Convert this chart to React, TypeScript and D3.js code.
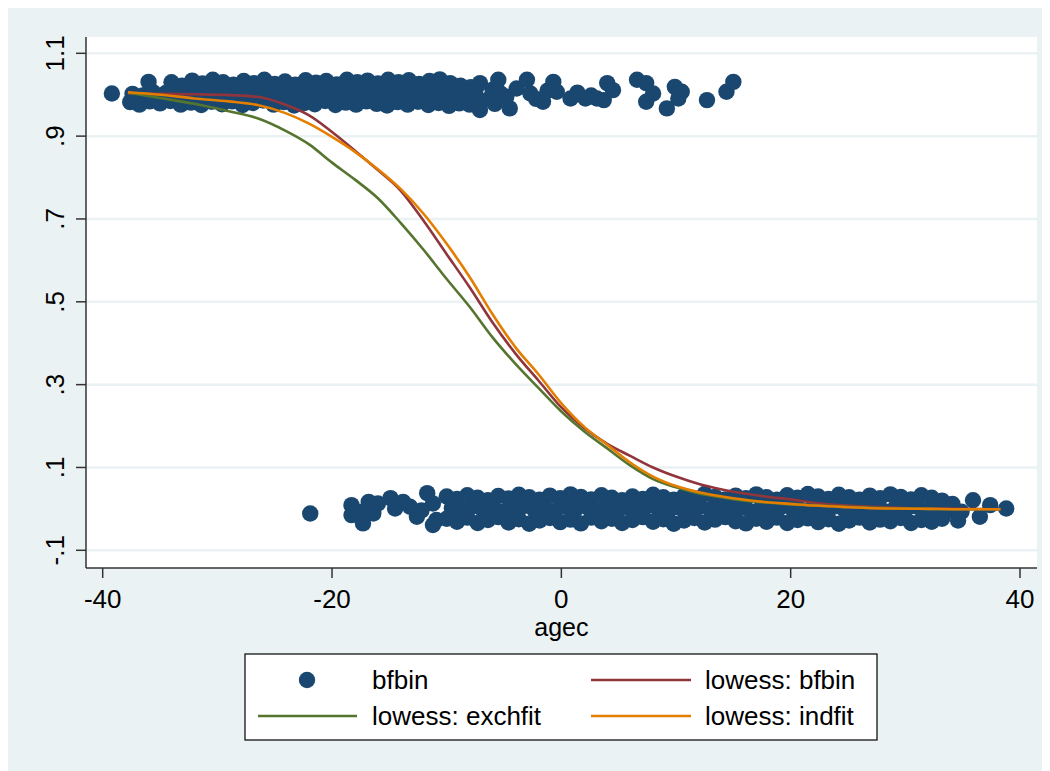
import React, { useEffect } from "react";
import * as d3 from "d3";

// axis ticks
const xTicks = [-40, -20, 0, 20, 40];
const yTicks = [-0.1, 0.1, 0.3, 0.5, 0.7, 0.9, 1.1];
const yTickLabels = ["-.1", ".1", ".3", ".5", ".7", ".9", "1.1"];

// lowess fits
const lowessX = [-37.8, -35, -32, -29, -26.5, -24, -22, -20, -18, -16, -14, -12, -10, -8, -6, -4, -2, 0, 2, 4, 6, 8, 10, 12, 14, 16, 18, 20, 22, 25, 28, 32, 35, 38.3];
const lowessBfbin = [1.003, 1.002, 1.001, 0.999, 0.995, 0.975, 0.95, 0.91, 0.865, 0.818, 0.768, 0.695, 0.615, 0.535, 0.45, 0.375, 0.31, 0.245, 0.195, 0.157, 0.128, 0.1, 0.078, 0.06, 0.047, 0.037, 0.029, 0.023, 0.015, 0.008, 0.004, 0.001, 0, -0.001];
const lowessExchfit = [1.005, 0.992, 0.978, 0.96, 0.943, 0.912, 0.88, 0.836, 0.795, 0.75, 0.69, 0.625, 0.555, 0.488, 0.414, 0.35, 0.292, 0.235, 0.187, 0.146, 0.105, 0.072, 0.052, 0.037, 0.028, 0.02, 0.015, 0.011, 0.009, 0.005, 0.002, 0, -0.001, -0.001];
const lowessIndfit = [1.006, 1.0, 0.991, 0.984, 0.975, 0.955, 0.93, 0.898, 0.862, 0.82, 0.772, 0.712, 0.64, 0.56, 0.47, 0.39, 0.325, 0.255, 0.198, 0.155, 0.112, 0.078, 0.055, 0.04, 0.03, 0.022, 0.016, 0.012, 0.008, 0.004, 0.001, 0, -0.001, -0.001];

// bfbin (jittered 0/1), upper band
const bfbinOnes: [number, number][] = [
  [-39.2, 1.003], [-36.0, 1.031], [-36.7, 0.987],
  [-34.0, 1.03], [-33.1, 1.022], [-32.2, 1.034], [-31.3, 1.027], [-30.4, 1.036], [-29.5, 1.03], [-28.6, 1.024], [-27.7, 1.033],
  [-26.8, 1.028], [-25.9, 1.036], [-25.0, 1.026], [-24.1, 1.032], [-23.2, 1.024], [-22.3, 1.035], [-21.4, 1.029], [-20.5, 1.033],
  [-19.6, 1.025], [-18.7, 1.036], [-17.8, 1.03], [-16.9, 1.034], [-16.0, 1.027], [-15.1, 1.036], [-14.2, 1.03], [-13.3, 1.035],
  [-12.4, 1.026], [-11.5, 1.033], [-10.6, 1.037], [-9.7, 1.028], [-8.8, 1.022], [-7.9, 1.018],
  [-37.4, 1.002], [-36.5, 0.998], [-35.6, 1.006], [-34.5, 1.004], [-33.6, 1.009], [-32.7, 0.999], [-31.8, 1.007], [-30.9, 1.003],
  [-30.0, 1.01], [-29.1, 1.001], [-28.2, 1.006], [-27.3, 0.998], [-26.4, 1.008], [-25.5, 1.003], [-24.6, 1.01], [-23.7, 1.0],
  [-22.8, 1.006], [-21.9, 1.002], [-21.0, 1.009], [-20.1, 0.999], [-19.2, 1.007], [-18.3, 1.004], [-17.4, 1.01], [-16.5, 1.001],
  [-15.6, 1.006], [-14.7, 1.003], [-13.8, 1.009], [-12.9, 0.998], [-12.0, 1.005], [-11.1, 1.002], [-10.2, 1.008], [-9.3, 1.0],
  [-8.4, 1.004], [-7.5, 1.01],
  [-37.6, 0.982], [-36.8, 0.976], [-35.9, 0.984], [-35.0, 0.979], [-34.1, 0.985], [-33.2, 0.976], [-32.3, 0.981], [-31.4, 0.975],
  [-30.5, 0.983], [-29.6, 0.977], [-28.7, 0.984], [-27.8, 0.975], [-26.9, 0.98], [-26.0, 0.986], [-25.1, 0.976], [-24.2, 0.982],
  [-23.3, 0.974], [-22.4, 0.98], [-21.5, 0.977], [-20.6, 0.985], [-19.7, 0.975], [-18.8, 0.981], [-17.9, 0.976], [-17.0, 0.984],
  [-16.1, 0.978], [-15.2, 0.974], [-14.3, 0.982], [-13.4, 0.976], [-12.5, 0.983], [-11.6, 0.975], [-10.7, 0.98], [-9.8, 0.973],
  [-8.9, 0.979], [-8.0, 0.976], [-7.1, 0.985],
  [-7.1, 0.963], [-7.1, 1.028], [-6.3, 0.99], [-6.0, 1.012], [-5.8, 0.978], [-5.5, 1.036], [-5.3, 1.003], [-4.8, 0.995],
  [-4.5, 0.967], [-3.9, 1.015], [-3.0, 1.036], [-2.7, 1.003], [-2.2, 0.99], [-1.6, 0.983], [-1.2, 1.01], [-0.7, 1.031],
  [-0.4, 1.007], [0.8, 0.991], [1.4, 1.005], [2.1, 0.991], [2.6, 0.998], [3.1, 0.991], [3.7, 0.987], [4.0, 1.028], [4.5, 1.011],
  [6.6, 1.036], [7.4, 1.028], [8.0, 1.003], [7.4, 0.983], [9.2, 0.967], [9.9, 1.019], [10.5, 1.007], [10.2, 0.991],
  [12.7, 0.987], [14.4, 1.007], [15.0, 1.031],
];

// bfbin, lower band
const bfbinZeros: [number, number][] = [
  [-21.9, -0.011], [-18.3, 0.009], [-18.3, -0.015], [-17.4, -0.007], [-17.3, -0.035], [-16.8, 0.017], [-16.0, 0.013],
  [-16.4, -0.011], [-14.9, 0.026], [-14.5, 0.001], [-13.8, 0.017], [-13.2, 0.005], [-12.6, -0.019], [-12.2, -0.004],
  [-11.7, 0.038], [-11.2, 0.013], [-10.9, -0.027], [-11.2, -0.039],
  [-10.0, 0.03], [-9.1, 0.024], [-8.2, 0.033], [-7.3, 0.027], [-6.4, 0.021], [-5.5, 0.031], [-4.6, 0.025], [-3.7, 0.034],
  [-2.8, 0.028], [-1.9, 0.022], [-1.0, 0.032], [-0.1, 0.026], [0.8, 0.035], [1.7, 0.029], [2.6, 0.023], [3.5, 0.033],
  [4.4, 0.027], [5.3, 0.021], [6.2, 0.03], [7.1, 0.024], [8.0, 0.034], [8.9, 0.028], [9.8, 0.022], [10.7, 0.031],
  [11.6, 0.025], [12.5, 0.036], [13.4, 0.029], [14.3, 0.023], [15.2, 0.032], [16.1, 0.026], [17.0, 0.035], [17.9, 0.028],
  [18.8, 0.022], [19.7, 0.033], [20.6, 0.027], [21.5, 0.036], [22.4, 0.03], [23.3, 0.024], [24.2, 0.034], [25.1, 0.028],
  [26.0, 0.022], [26.9, 0.032], [27.8, 0.026], [28.7, 0.035], [29.6, 0.029], [30.5, 0.023], [31.4, 0.033], [32.3, 0.027],
  [33.2, 0.02],
  [-9.55, 0.002], [-8.65, -0.004], [-7.75, 0.006], [-6.85, -0.002], [-5.95, 0.004], [-5.05, -0.006], [-4.15, 0.001],
  [-3.25, 0.007], [-2.35, -0.003], [-1.45, 0.003], [-0.55, -0.005], [0.35, 0.005], [1.25, -0.001], [2.15, 0.006],
  [3.05, -0.004], [3.95, 0.002], [4.85, -0.006], [5.75, 0.004], [6.65, -0.002], [7.55, 0.007], [8.45, 0.0], [9.35, -0.005],
  [10.25, 0.003], [11.15, -0.003], [12.05, 0.005], [12.95, -0.001], [13.85, 0.006], [14.75, -0.004], [15.65, 0.002],
  [16.55, -0.006], [17.45, 0.004], [18.35, -0.002], [19.25, 0.006], [20.15, 0.0], [21.05, -0.005], [21.95, 0.003],
  [22.85, -0.003], [23.75, 0.005], [24.65, -0.001], [25.55, 0.006], [26.45, -0.004], [27.35, 0.002], [28.25, -0.006],
  [29.15, 0.004], [30.05, -0.002], [30.95, 0.006], [31.85, -0.003], [32.75, 0.003], [33.65, -0.005],
  [-10.0, -0.024], [-9.1, -0.031], [-8.2, -0.021], [-7.3, -0.034], [-6.4, -0.027], [-5.5, -0.02], [-4.6, -0.033], [-3.7, -0.025],
  [-2.8, -0.036], [-1.9, -0.028], [-1.0, -0.022], [-0.1, -0.032], [0.8, -0.026], [1.7, -0.035], [2.6, -0.021], [3.5, -0.03],
  [4.4, -0.024], [5.3, -0.034], [6.2, -0.027], [7.1, -0.02], [8.0, -0.031], [8.9, -0.025], [9.8, -0.036], [10.7, -0.028],
  [11.6, -0.022], [12.5, -0.033], [13.4, -0.026], [14.3, -0.02], [15.2, -0.03], [16.1, -0.035], [17.0, -0.024], [17.9, -0.031],
  [18.8, -0.021], [19.7, -0.034], [20.6, -0.027], [21.5, -0.023], [22.4, -0.032], [23.3, -0.025], [24.2, -0.036], [25.1, -0.028],
  [26.0, -0.021], [26.9, -0.033], [27.8, -0.026], [28.7, -0.03], [29.6, -0.022], [30.5, -0.034], [31.4, -0.027], [32.3, -0.031],
  [33.2, -0.024],
  [34.1, 0.012], [34.6, -0.028], [34.9, -0.007], [35.9, 0.021], [36.5, -0.019], [37.4, 0.009], [38.8, 0.001],
];

const NAVY = "#1a476f";
const MAROON = "#90353b";
const GREEN = "#55752f";
const ORANGE = "#e37e00";
const BG = "#eaf2f3";
const FONT = "'Liberation Sans', Arial, sans-serif";

const W = 1042;
const H = 763;
const plot = { left: 78, right: 1029, top: 29, bottom: 560 };
const R = 8.2;

export default function App() {
  useEffect(() => {
    document.documentElement.style.overflow = "hidden";
  }, []);

  const x = d3.scaleLinear().domain([-40, 40]).range([94.7, 1012]);
  const y = d3.scaleLinear().domain([-0.1, 1.1]).range([542.3, 45.3]);

  const line = d3
    .line<number>()
    .x((_, i) => x(lowessX[i]))
    .y((d) => y(d))
    .curve(d3.curveMonotoneX);

  const fits = [
    { vals: lowessBfbin, color: MAROON },
    { vals: lowessExchfit, color: GREEN },
    { vals: lowessIndfit, color: ORANGE },
  ];

  const points = bfbinOnes.concat(bfbinZeros);

  return (
    <svg width={W} height={H} style={{ display: "block" }} fontFamily={FONT}>
      <rect width={W} height={H} fill={BG} />
      <rect x={plot.left} y={plot.top} width={plot.right - plot.left} height={plot.bottom - plot.top} fill="#fff" />

      {/* grid */}
      {yTicks.map((t) => (
        <line key={"g" + t} x1={plot.left} x2={plot.right} y1={y(t)} y2={y(t)} stroke={BG} strokeWidth={2.5} />
      ))}

      {/* scatter */}
      {points.map((p, i) => (
        <circle key={i} cx={x(p[0])} cy={y(p[1])} r={R} fill={NAVY} />
      ))}

      {/* lowess lines */}
      {fits.map((f) => (
        <path key={f.color} d={line(f.vals) || ""} fill="none" stroke={f.color} strokeWidth={2.6} strokeLinejoin="round" />
      ))}

      {/* axes */}
      <line x1={plot.left} x2={plot.left} y1={plot.top} y2={plot.bottom} stroke="#333" strokeWidth={1.5} />
      <line x1={plot.left} x2={plot.right} y1={plot.bottom} y2={plot.bottom} stroke="#333" strokeWidth={1.5} />
      {yTicks.map((t, i) => (
        <g key={"y" + t}>
          <line x1={plot.left - 10} x2={plot.left} y1={y(t)} y2={y(t)} stroke="#333" strokeWidth={1.5} />
          <text
            transform={`translate(56,${y(t)}) rotate(-90)`}
            textAnchor="middle"
            fontSize={26}
            fill="#000"
          >
            {yTickLabels[i]}
          </text>
        </g>
      ))}
      {xTicks.map((t) => (
        <g key={"x" + t}>
          <line x1={x(t)} x2={x(t)} y1={plot.bottom} y2={plot.bottom + 10} stroke="#333" strokeWidth={1.5} />
          <text x={x(t)} y={600} textAnchor="middle" fontSize={26} fill="#000">
            {t}
          </text>
        </g>
      ))}
      <text x={x(0)} y={628} textAnchor="middle" fontSize={25} fill="#000">
        agec
      </text>

      {/* legend */}
      <rect x={237} y={646} width={632} height={86} fill="#fff" stroke="#000" strokeWidth={1.2} />
      <circle cx={299} cy={672} r={R} fill={NAVY} />
      <text x={364} y={681} fontSize={26}>bfbin</text>
      <line x1={583} x2={683} y1={672} y2={672} stroke={MAROON} strokeWidth={2.6} />
      <text x={697} y={681} fontSize={26}>lowess: bfbin</text>
      <line x1={250} x2={349} y1={708} y2={708} stroke={GREEN} strokeWidth={2.6} />
      <text x={364} y={717} fontSize={26}>lowess: exchfit</text>
      <line x1={583} x2={683} y1={708} y2={708} stroke={ORANGE} strokeWidth={2.6} />
      <text x={697} y={717} fontSize={26}>lowess: indfit</text>
    </svg>
  );
}
